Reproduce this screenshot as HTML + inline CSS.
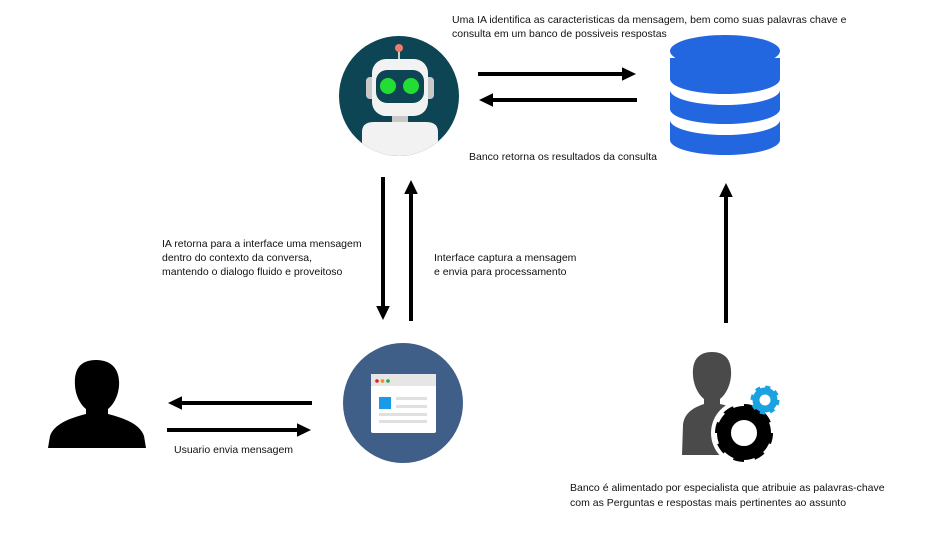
<!DOCTYPE html>
<html><head><meta charset="utf-8"><style>
html,body{margin:0;padding:0;background:#fff;}
svg{display:block;font-family:"Liberation Sans",sans-serif;}
text{font-size:10.5px;fill:#111;}
</style></head><body>
<svg width="938" height="533" viewBox="0 0 938 533" xmlns="http://www.w3.org/2000/svg">
<defs>
<marker id="ah" markerWidth="4" markerHeight="4" refX="1.5" refY="2" orient="auto" markerUnits="strokeWidth">
<path d="M0,0.3 L3.5,2 L0,3.7 Z" fill="#000"/></marker>
<clipPath id="rc"><circle cx="399" cy="96" r="60"/></clipPath>
</defs>
<rect width="938" height="533" fill="#fff"/>

<!-- Robot -->
<circle cx="399" cy="96" r="60" fill="#0d4555"/>
<line x1="399" y1="50" x2="399" y2="60" stroke="#ccc" stroke-width="2"/>
<circle cx="399" cy="48" r="4" fill="#ef7b6c"/>
<rect x="366" y="77" width="10" height="22" rx="4" fill="#c8c8c8"/>
<rect x="424" y="77" width="10" height="22" rx="4" fill="#c8c8c8"/>
<rect x="372" y="59" width="56" height="57" rx="14" fill="#f2f2f2"/>
<rect x="376" y="70" width="48" height="33" rx="11" fill="#0d4555"/>
<circle cx="388" cy="86" r="8" fill="#22dd33"/>
<circle cx="411" cy="86" r="8" fill="#22dd33"/>
<rect x="392" y="116" width="16" height="6" fill="#c8c8c8"/>
<path clip-path="url(#rc)" d="M362,160 L362,132 Q362,122 374,122 L426,122 Q438,122 438,132 L438,160 Z" fill="#f2f2f2"/>

<!-- Database -->
<g fill="#2266e0">
<path d="M670,120 L670,140 A55,15 0 0 0 780,140 L780,120 A55,15 0 0 1 670,120 Z"/>
<path d="M670,90 L670,109 A55,15 0 0 0 780,109 L780,90 A55,15 0 0 1 670,90 Z"/>
<path d="M670,58 L670,79 A55,15 0 0 0 780,79 L780,58 Z"/>
<ellipse cx="725" cy="51" rx="55" ry="16"/>
</g>

<!-- horizontal arrows top -->
<line x1="478" y1="74" x2="628" y2="74" stroke="#000" stroke-width="4" marker-end="url(#ah)"/>
<line x1="637" y1="100" x2="487" y2="100" stroke="#000" stroke-width="4" marker-end="url(#ah)"/>
<!-- vertical arrows -->
<line x1="383" y1="177" x2="383" y2="312" stroke="#000" stroke-width="4" marker-end="url(#ah)"/>
<line x1="411" y1="321" x2="411" y2="188" stroke="#000" stroke-width="4" marker-end="url(#ah)"/>
<line x1="726" y1="323" x2="726" y2="191" stroke="#000" stroke-width="4" marker-end="url(#ah)"/>
<!-- bottom arrows -->
<line x1="312" y1="403" x2="176" y2="403" stroke="#000" stroke-width="4" marker-end="url(#ah)"/>
<line x1="167" y1="430" x2="303" y2="430" stroke="#000" stroke-width="4" marker-end="url(#ah)"/>

<!-- Browser -->
<circle cx="403" cy="403" r="60" fill="#3f5f88"/>
<rect x="371" y="374" width="65" height="59" rx="2" fill="#fff"/>
<rect x="371" y="374" width="65" height="12" fill="#e6e6e6"/>
<circle cx="377" cy="381" r="1.8" fill="#e02020"/>
<circle cx="382.5" cy="381" r="1.8" fill="#f08a20"/>
<circle cx="388" cy="381" r="1.8" fill="#22aa44"/>
<rect x="379" y="397" width="12" height="12" fill="#1a9ae8"/>
<rect x="396" y="397" width="31" height="3" fill="#e0e0e0"/>
<rect x="396" y="405" width="31" height="3" fill="#e0e0e0"/>
<rect x="379" y="413" width="48" height="3" fill="#e0e0e0"/>
<rect x="379" y="420" width="48" height="3" fill="#e0e0e0"/>

<!-- Person -->
<path d="M96,360 C78,360 74,372 75,386 C76,398 82,406 86,409 L86,414 C70,418 54,424 50,436 L48,448 L146,448 L144,436 C140,424 124,418 108,414 L108,409 C112,406 118,398 119,386 C120,372 114,360 96,360 Z" fill="#000"/>

<!-- Specialist -->
<path d="M712,352 C697,352 692,362 693,376 C694,388 700,396 704,399 L704,404 C692,408 684,414 683,425 L682,455 L745,455 L745,410 L720,404 L720,399 C724,396 730,388 731,376 C732,362 727,352 712,352 Z" fill="#4a4a4a"/>
<circle cx="744" cy="433" r="33" fill="#fff"/>
<circle cx="744" cy="433" r="20" fill="none" stroke="#000" stroke-width="14"/>
<circle cx="744" cy="433" r="25" fill="none" stroke="#000" stroke-width="8" stroke-dasharray="9.8 9.8"/>
<circle cx="765" cy="400" r="9" fill="none" stroke="#1aa3e0" stroke-width="7"/>
<circle cx="765" cy="400" r="12" fill="none" stroke="#1aa3e0" stroke-width="5" stroke-dasharray="4.7 4.7"/>

<!-- Text -->
<text x="452" y="23">Uma IA identifica as caracteristicas da mensagem, bem como suas palavras chave e</text>
<text x="452" y="37">consulta em um banco de possiveis respostas</text>
<text x="469" y="160">Banco retorna os resultados  da consulta</text>
<text x="162" y="247">IA retorna para a interface uma mensagem</text>
<text x="162" y="261">dentro do contexto da conversa,</text>
<text x="162" y="275">mantendo o dialogo fluido e proveitoso</text>
<text x="434" y="261">Interface captura a mensagem</text>
<text x="434" y="275">e envia para processamento</text>
<text x="174" y="453">Usuario envia mensagem</text>
<text x="570" y="491">Banco é alimentado por especialista que atribuie as palavras-chave</text>
<text x="570" y="506">com as  Perguntas e respostas mais pertinentes ao assunto</text>
</svg>
</body></html>
